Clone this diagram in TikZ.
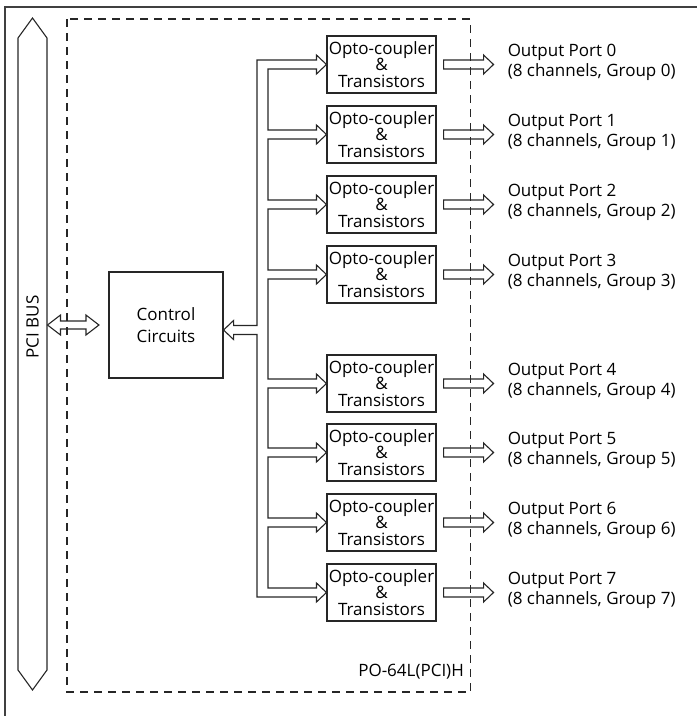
\documentclass[tikz,border=0pt]{standalone}
\usepackage{fontspec}
\setmainfont{Open Sans}
\usetikzlibrary{calc}
\tikzset{
  line/.style={draw=black!85, line width=1.1pt, line join=miter},
  optobox/.style={line, minimum width=109pt, minimum height=57pt, inner sep=0pt, align=center,
    font=\fontsize{17}{16.5}\selectfont},
  ctrlbox/.style={line, minimum width=114pt, minimum height=106pt, inner sep=0pt, align=center,
    font=\fontsize{17}{22}\selectfont},
  portlabel/.style={anchor=west, inner sep=0pt, align=left, font=\fontsize{17}{20}\selectfont},
  head/.style={insert path={-- ($(#1.west)+(-10,-4.5)$) -- ($(#1.west)+(-10,-9.5)$) -- (#1.west)
     -- ($(#1.west)+(-10,9.5)$) -- ($(#1.west)+(-10,4.5)$)}},
}
\begin{document}
\begin{tikzpicture}[x=1pt, y=-1pt]
\useasboundingbox (0,0) rectangle (697,716);
% outer frame (left and top edges)
\draw[draw=black!75, line width=2pt] (5,716) -- (5,6.5) -- (697,6.5);
% board outline
\draw[line, dash pattern=on 8pt off 6pt] (67,19) rectangle (470.5,692);
\node[anchor=east, inner sep=0pt, font=\fontsize{17}{20}\selectfont] (board) at (464,672) {PO-64L(PCI)H};
% PCI bus
\draw[line] (32.5,18) -- (47,38) -- (47,670) -- (32.5,690) -- (18,670) -- (18,38) -- cycle;
\node[rotate=90, inner sep=0pt, font=\fontsize{17}{20}\selectfont] (bus) at (32.5,327) {PCI BUS};
\coordinate (busR) at (47.5,325);
% control circuits
\node[ctrlbox] (cc) at (166,325) {Control\\Circuits};
% opto boxes
\foreach \i/\y in {0/64.5,1/134.5,2/204.5,3/274.5,4/383.5,5/452.5,6/522.5,7/592.5}{
  \node[optobox] (b\i) at (381.5,\y) {Opto-coupler\\\&\\Transistors};
  \coordinate (a\i) at ($(b\i.west)+(-10,-4.5)$);
  \coordinate (d\i) at ($(b\i.west)+(-10,4.5)$);
  \draw[line] ($(b\i.east)+(7,-4.5)$) -- ($(b\i.east)+(47,-4.5)$) -- ($(b\i.east)+(47,-9.5)$)
     -- ($(b\i.east)+(57,0)$) -- ($(b\i.east)+(47,9.5)$) -- ($(b\i.east)+(47,4.5)$)
     -- ($(b\i.east)+(7,4.5)$) -- cycle;
  \node[portlabel] (l\i) at ($(b\i.east)+(71,-2.5)$) {Output Port \i\\(8 channels, Group \i)};
}
% bus <-> control double arrow
\coordinate (tr) at ($(cc.west)+(-9.5,0)$);
\draw[line] (busR) -- ($(busR)+(13,-10)$) -- ($(busR)+(13,-4)$) -- ($(tr)+(-13,-4)$)
  -- ($(tr)+(-13,-10)$) -- (tr) -- ($(tr)+(-13,10)$) -- ($(tr)+(-13,4)$)
  -- ($(busR)+(13,4)$) -- ($(busR)+(13,10)$) -- cycle;
% internal bus tree
\coordinate (ct) at ($(cc.east)+(0,5)$);
\coordinate (cu) at ($(ct)+(10,-4.5)$);
\coordinate (cd) at ($(ct)+(10,4.5)$);
\coordinate (tO) at (257,0);
\coordinate (tI) at (268,0);
\draw[line] (cu) -- (cu -| tO) -- (tO |- a0) [head=b0]
  -- (d0 -| tI) -- (tI |- a1) [head=b1]
  -- (d1 -| tI) -- (tI |- a2) [head=b2]
  -- (d2 -| tI) -- (tI |- a3) [head=b3]
  -- (d3 -| tI) -- (tI |- a4) [head=b4]
  -- (d4 -| tI) -- (tI |- a5) [head=b5]
  -- (d5 -| tI) -- (tI |- a6) [head=b6]
  -- (d6 -| tI) -- (tI |- a7) [head=b7]
  -- (d7 -| tO) -- (tO |- cd) -- (cd) -- ($(ct)+(10,9.5)$) -- (ct) -- ($(ct)+(10,-9.5)$) -- cycle;
\end{tikzpicture}
\end{document}
